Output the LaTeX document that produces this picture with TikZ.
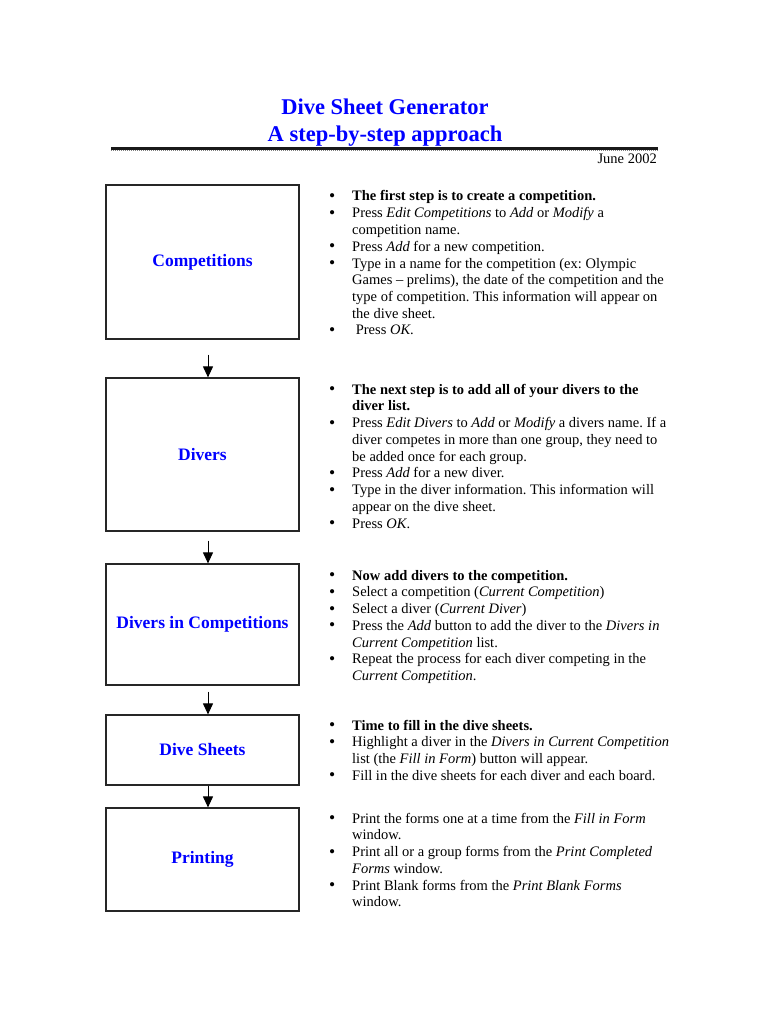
\documentclass[tikz,border=0pt]{standalone}
\usepackage{fontspec}
\setmainfont{Liberation Serif}
\usepackage{array}
\usetikzlibrary{arrows.meta,positioning,calc}
\newcommand{\blt}{\smash{\raisebox{-0.5pt}{\fontsize{17.5}{16}\selectfont\textbullet}}}

\begin{document}
\begin{tikzpicture}[x=1pt,y=-1pt,>=Triangle,
 stg/.style={draw=black!85,line width=1.2pt,minimum width=193pt,text=blue,font=\fontsize{17.5}{20}\selectfont\bfseries},
 lst/.style={anchor=base west,inner sep=0pt,font=\fontsize{14.5}{16.75}\selectfont\frenchspacing},
 flw/.style={-{Triangle[length=11pt,width=10pt]},line width=1pt}]
\useasboundingbox (0,0) rectangle (770,1024);
% heading
\node[align=center,text=blue,font=\fontsize{22.5}{27}\selectfont\bfseries] (title) at (385,123) {Dive Sheet Generator\\A step-by-step approach};
\draw[line width=2.2pt,black!90] (111,148.5) -- (658,148.5);
\draw[gray,line width=1pt,dash pattern=on 1pt off 1pt] (111,150.6) -- (658,150.6);
\node[anchor=east,inner sep=0pt,font=\fontsize{14.5}{16.75}\selectfont] (date) at (657,159) {June 2002};
% stages
\node[stg,minimum height=154pt] (comp) at (202.5,262) {Competitions};
\node[stg,minimum height=153pt] (div) at (202.5,454.5) {Divers};
\node[stg,minimum height=121pt] (dic) at (202.5,624.5) {Divers in Competitions};
\node[stg,minimum height=70pt] (dsh) at (202.5,750) {Dive Sheets};
\node[stg,minimum height=103pt] (prn) at (202.5,859.5) {Printing};
\draw[flw] ([xshift=5.5pt,yshift=-15pt]comp.south) -- ([xshift=5.5pt]div.north);
\draw[flw] ([xshift=5.5pt,yshift=-9pt]div.south) -- ([xshift=5.5pt]dic.north);
\draw[flw] ([xshift=5.5pt,yshift=-6pt]dic.south) -- ([xshift=5.5pt]dsh.north);
\draw[flw] ([xshift=5.5pt]dsh.south) -- ([xshift=5.5pt]prn.north);
% steps
\node[lst] (t1) at (329,201) {\begin{tabular}[t]{@{}p{23pt}@{}l@{}}
\blt & \textbf{The first step is to create a competition.}\\
\blt & Press \textit{Edit Competitions} to \textit{Add} or \textit{Modify} a\\
 & competition name.\\
\blt & Press \textit{Add} for a new competition.\\
\blt & Type in a name for the competition (ex: Olympic\\
 & Games – prelims), the date of the competition and the\\
 & type of competition. This information will appear on\\
 & the dive sheet.\\
\blt & \hspace{3.6pt}Press \textit{OK}.
\end{tabular}};
\node[lst] (t2) at (329,394) {\begin{tabular}[t]{@{}p{23pt}@{}l@{}}
\blt & \textbf{The next step is to add all of your divers to the}\\
 & \textbf{diver list.}\\
\blt & Press \textit{Edit Divers} to \textit{Add} or \textit{Modify} a divers name. If a\\
 & diver competes in more than one group, they need to\\
 & be added once for each group.\\
\blt & Press \textit{Add} for a new diver.\\
\blt & Type in the diver information. This information will\\
 & appear on the dive sheet.\\
\blt & Press \textit{OK}.
\end{tabular}};
\node[lst] (t3) at (329,580) {\begin{tabular}[t]{@{}p{23pt}@{}l@{}}
\blt & \textbf{Now add divers to the competition.}\\
\blt & Select a competition (\textit{Current Competition})\\
\blt & Select a diver (\textit{Current Diver})\\
\blt & Press the \textit{Add} button to add the diver to the \textit{Divers in}\\
 & \textit{Current Competition} list.\\
\blt & Repeat the process for each diver competing in the\\
 & \textit{Current Competition}.
\end{tabular}};
\node[lst] (t4) at (329,730) {\begin{tabular}[t]{@{}p{23pt}@{}l@{}}
\blt & \textbf{Time to fill in the dive sheets.}\\
\blt & Highlight a diver in the \textit{Divers in Current Competition}\\
 & list (the \textit{Fill in Form}) button will appear.\\
\blt & Fill in the dive sheets for each diver and each board.
\end{tabular}};
\node[lst] (t5) at (329,823) {\begin{tabular}[t]{@{}p{23pt}@{}l@{}}
\blt & Print the forms one at a time from the \textit{Fill in Form}\\
 & window.\\
\blt & Print all or a group forms from the \textit{Print Completed}\\
 & \textit{Forms} window.\\
\blt & Print Blank forms from the \textit{Print Blank Forms}\\
 & window.
\end{tabular}};
\end{tikzpicture}
\end{document}
